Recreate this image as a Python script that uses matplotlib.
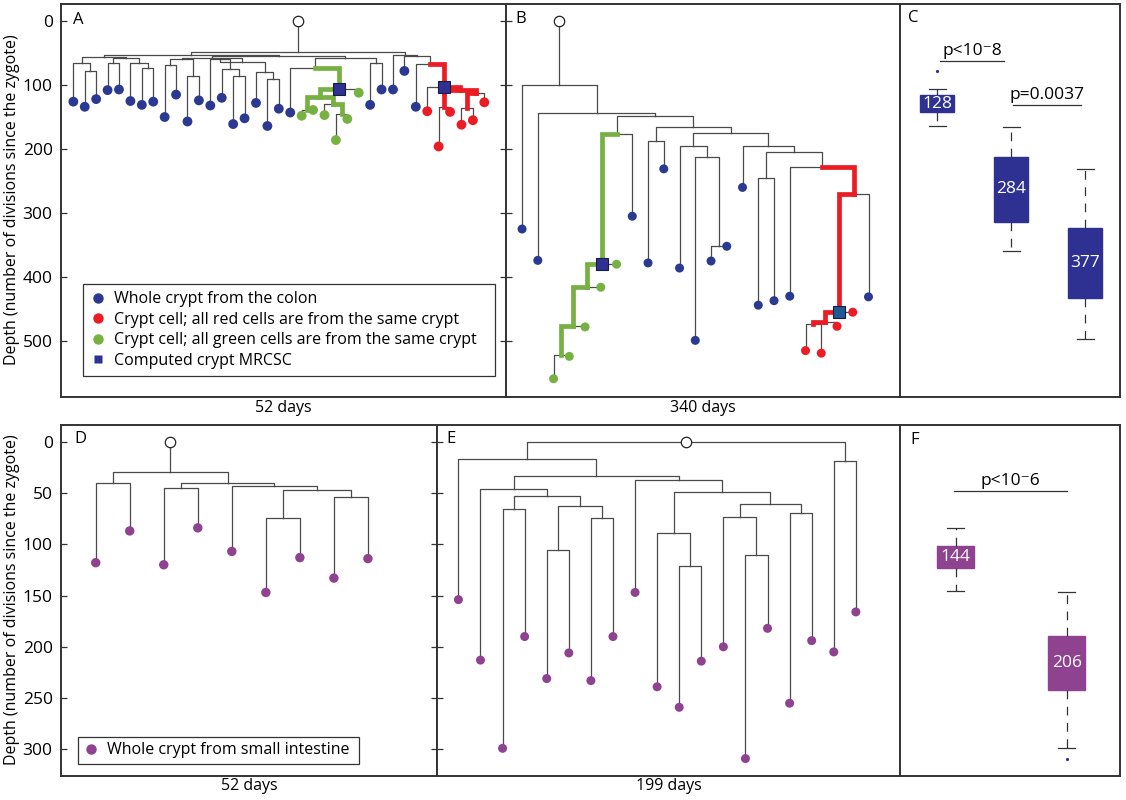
import matplotlib.pyplot as plt
from matplotlib.lines import Line2D

plt.rcParams['font.family'] = ['Open Sans', 'DejaVu Sans']
plt.rcParams['font.size'] = 11

BLUE = '#2b3990'
RED = '#ec1c24'
GREEN = '#77b143'
PURPLE = '#8e4290'
NAVY = '#2e3192'
TEAL = '#1f5a96'
LINE = '#4a4a4a'
FRAME = '#333333'

# ---- panel A: colon, 52 days (leaves left to right, depth in divisions)
a_depth = [126, 134, 122, 108, 107, 125, 131, 126, 150, 115, 157, 124, 132, 120, 161, 152, 128, 164, 137, 143,
           148, 139, 147, 186, 153, 112,
           131, 107, 107, 78, 134,
           141, 196, 142, 162, 155, 127]
a_type = 'bbbbbbbbbbbbbbbbbbbb' 'gggggg' 'bbbbb' 'rrrrrr'
# internal nodes: (name, left child, right child, depth)
a_nodes = [('a01', 1, 2, 78), ('a0', 0, 'a01', 66), ('a34', 3, 4, 66), ('a67', 6, 7, 74),
           ('a567', 5, 'a67', 65), ('a37', 'a34', 'a567', 58), ('LA', 'a0', 'a37', 56),
           ('a89', 8, 9, 69), ('a1011', 10, 11, 86), ('c1', 'a89', 'a1011', 60),
           ('a1415', 14, 15, 86), ('a13', 13, 'a1415', 75), ('a12', 12, 'a13', 60),
           ('a1718', 17, 18, 90), ('a16', 16, 'a1718', 79), ('c2', 'a12', 'a16', 64),
           ('LB1', 'c1', 'c2', 57),
           ('C1', 23, 24, 145), ('B2', 22, 'C1', 129), ('B1', 20, 21, 139), ('A1', 'B1', 'B2', 118),
           ('S', 'A1', 25, 107), ('Q', 19, 'S', 74), ('T1', 26, 27, 66), ('LB2', 'Q', 'T1', 57),
           ('LB', 'LB1', 'LB2', 55), ('LL', 'LA', 'LB', 52.5),
           ('R2', 32, 33, 134), ('R4', 34, 35, 136), ('R3', 'R4', 36, 113), ('R1', 'R2', 'R3', 108),
           ('RS', 31, 'R1', 103), ('R0', 30, 'RS', 67), ('a29', 29, 'R0', 55), ('RR', 28, 'a29', 53),
           ('root', 'LL', 'RR', 48)]
a_green = ['S', 'A1', 'B1', 'B2', 'C1']
a_red = ['RS', 'R1', 'R2', 'R3', 'R4']
a_mrcsc = {'S': NAVY, 'RS': NAVY}

# ---- panel B: colon, 340 days
b_depth = [325, 374, 559, 524, 478, 416, 380, 305, 378, 231, 386, 499, 375, 352, 260, 444, 437, 430,
           515, 519, 477, 455, 431]
b_type = 'bb' 'ggggg' 'bbbbbbbbbbb' 'rrrr' 'b'
b_nodes = [('g4', 2, 3, 522), ('g3', 'g4', 4, 476), ('g2', 'g3', 5, 415), ('gS', 'g2', 6, 379),
           ('ba', 'gS', 7, 177), ('n89', 8, 9, 187), ('n1213', 12, 13, 351), ('n11', 11, 'n1213', 213),
           ('n10', 10, 'n11', 195), ('n1516', 15, 16, 245), ('r3', 18, 19, 474), ('r2', 'r3', 20, 470),
           ('rS', 'r2', 21, 455), ('r1', 'rS', 22, 270), ('n17', 17, 'r1', 228), ('nc', 'n1516', 'n17', 204),
           ('nd', 14, 'nc', 195), ('ne', 'n10', 'nd', 175), ('nf', 'n89', 'ne', 166), ('ng', 'ba', 'nf', 149),
           ('nh', 1, 'ng', 143), ('root', 0, 'nh', 100)]
b_green = ['gS', 'g2', 'g3', 'g4']
b_red = ['r1', 'rS', 'r2', 'r3']
b_mrcsc = {'gS': NAVY, 'rS': TEAL}

# ---- panel C: colon MRCSC depths
c_labels = ['128', '284', '377']
c_q1 = [116, 212, 323]
c_q3 = [142, 314, 433]
c_lo = [106, 165, 231]
c_hi = [164, 359, 497]
c_fliers = [[78], [], []]

# ---- panel D: small intestine, 52 days
d_depth = [118, 87, 120, 84, 107, 147, 113, 133, 114]
d_nodes = [('d01', 0, 1, 40), ('d23', 2, 3, 45), ('d56', 5, 6, 74), ('d78', 7, 8, 54),
           ('d58', 'd56', 'd78', 47), ('d48', 4, 'd58', 43), ('d28', 'd23', 'd48', 40),
           ('root', 'd01', 'd28', 30)]

# ---- panel E: small intestine, 199 days
e_depth = [154, 213, 299, 190, 231, 206, 233, 190, 147, 239, 259, 214, 200, 309, 182, 255, 194, 205, 166]
e_nodes = [('e23', 2, 3, 66), ('e45', 4, 5, 106), ('e67', 6, 7, 74), ('e47', 'e45', 'e67', 63),
           ('e27', 'e23', 'e47', 53), ('e17', 1, 'e27', 46.5), ('e1011', 10, 11, 121.5),
           ('e911', 9, 'e1011', 89), ('e1314', 13, 14, 110), ('e1214', 12, 'e1314', 73),
           ('e1516', 15, 16, 70), ('e1216', 'e1214', 'e1516', 61), ('e916', 'e911', 'e1216', 49),
           ('e816', 8, 'e916', 37), ('e116', 'e17', 'e816', 33), ('e016', 0, 'e116', 17),
           ('e1718', 17, 18, 18.5), ('root', 'e016', 'e1718', 0)]

# ---- panel F: small intestine crypt depths
f_labels = ['144', '206']
f_q1 = [102, 189]
f_q3 = [123, 242]
f_lo = [84, 147]
f_hi = [146, 299]
f_fliers = [[], [309]]

TYPE_COLOR = {'b': BLUE, 'r': RED, 'g': GREEN, 'p': PURPLE}

W, H = 1126, 800
fig = plt.figure(figsize=(W / 100, H / 100), dpi=100)


def panel(x0, y0, x1, y1, ylim, xlim):
    ax = fig.add_axes([x0 / W, 1 - y1 / H, (x1 - x0) / W, (y1 - y0) / H])
    ax.set_xlim(*xlim)
    ax.set_ylim(*ylim)
    ax.set_xticks([])
    ax.set_yticks([])
    for s in ax.spines.values():
        s.set_color(FRAME)
        s.set_linewidth(1.4)
    ax.tick_params(axis='y', direction='in', length=4, width=0.9, color=FRAME, labelsize=12.5, pad=6)
    return ax


def draw_tree(ax, depth, types, nodes, green=(), red=(), squares=None, dot=46, zygote=0):
    pos = {i: (float(i), d) for i, d in enumerate(depth)}
    kids = {}
    for name, l, r, d in nodes:
        pos[name] = ((pos[l][0] + pos[r][0]) / 2, d)
        kids[name] = (l, r)
    for name, (l, r) in kids.items():
        px, pd = pos[name]
        for c in (l, r):
            cx, cd = pos[c]
            if c in green or c in red:
                col = GREEN if c in green else RED
                ax.plot([px, cx, cx], [pd, pd, cd], color=col, lw=3.4, zorder=3,
                        solid_capstyle='projecting', solid_joinstyle='miter')
            else:
                ax.plot([px, cx, cx], [pd, pd, cd], color=LINE, lw=0.9, zorder=2)
    rx, rd = pos[nodes[-1][0]]
    if rd > zygote:
        ax.plot([rx, rx], [zygote, rd], color=LINE, lw=0.9, zorder=2)
    ax.plot([rx], [zygote], 'o', ms=7.5, mfc='white', mec='#222222', mew=0.9, zorder=6)
    xs = list(range(len(depth)))
    ax.scatter(xs, depth, s=dot, c=[TYPE_COLOR[t] for t in types], edgecolors='none', zorder=5)
    if squares:
        for n, col in squares.items():
            ax.plot([pos[n][0]], [pos[n][1]], 's', ms=8, mfc=col, mec='#1a1a3a', mew=0.8, zorder=6)


def draw_boxes(ax, labels, q1, q3, lo, hi, fliers, color, width, capw):
    stats = []
    for i in range(len(labels)):
        stats.append(dict(med=(q1[i] + q3[i]) / 2, q1=q1[i], q3=q3[i], whislo=lo[i], whishi=hi[i],
                          fliers=fliers[i]))
    ax.bxp(stats, positions=range(1, len(labels) + 1), widths=width, capwidths=capw,
           patch_artist=True, showfliers=True,
           boxprops=dict(facecolor=color, edgecolor=color, lw=1),
           whiskerprops=dict(color=FRAME, lw=0.9, linestyle=(0, (7, 6))),
           capprops=dict(color=FRAME, lw=0.9),
           medianprops=dict(lw=0),
           flierprops=dict(marker='o', markersize=2.3, markerfacecolor=NAVY, markeredgecolor='none'))
    for i, lab in enumerate(labels):
        ax.text(i + 1, (q1[i] + q3[i]) / 2, lab, color='white', ha='center', va='center', fontsize=12.5)


def pbar(ax, x0, x1, y, ty, txt):
    ax.plot([x0, x1], [y, y], color=FRAME, lw=0.9)
    ax.text((x0 + x1) / 2, ty, txt, ha='center', va='center', fontsize=12.5)


top_ylim = (587.5, -26.6)
bot_ylim = (326, -16.3)

# top row
axA = panel(61, 4, 506, 397, top_ylim, (-1.08, 37.9))
axA.set_yticks([0, 100, 200, 300, 400, 500])
axA.tick_params(axis='y', right=True)
draw_tree(axA, a_depth, a_type, a_nodes, a_green, a_red, a_mrcsc, dot=50)
handles = [Line2D([], [], ls='none', marker='o', ms=7.5, mfc=BLUE, mec='none'),
           Line2D([], [], ls='none', marker='o', ms=7.5, mfc=RED, mec='none'),
           Line2D([], [], ls='none', marker='o', ms=7.5, mfc=GREEN, mec='none'),
           Line2D([], [], ls='none', marker='s', ms=6, mfc=NAVY, mec='none')]
leg = axA.legend(handles, ['Whole crypt from the colon',
                           'Crypt cell; all red cells are from the same crypt',
                           'Crypt cell; all green cells are from the same crypt',
                           'Computed crypt MRCSC'],
                 loc='upper left', bbox_to_anchor=(0.049, 0.2875, 0.926, 0.0), mode='expand',
                 borderaxespad=0, fancybox=False, framealpha=1, edgecolor=FRAME, fontsize=11.5,
                 labelspacing=0.28, handletextpad=0.5, borderpad=0.45, handlelength=1.0)
leg.get_frame().set_linewidth(0.9)

axB = panel(506, 4, 900, 397, top_ylim, (-1.02, 24.0))
axB.set_yticks([0, 100, 200, 300, 400, 500])
axB.tick_params(axis='y', labelleft=False)
draw_tree(axB, b_depth, b_type, b_nodes, b_green, b_red, b_mrcsc, dot=42)

axC = panel(900, 4, 1120, 397, top_ylim, (0.5, 3.47))
draw_boxes(axC, c_labels, c_q1, c_q3, c_lo, c_hi, c_fliers, NAVY, 0.46, 0.23)
axC.set_xticks([])
pbar(axC, 1.04, 1.905, 62.5, 47, 'p<10⁻8')
pbar(axC, 2.03, 2.95, 131, 115, 'p=0.0037')

# bottom row
axD = panel(61, 425, 437, 776, bot_ylim, (-1.02, 10.03))
axD.set_yticks([0, 50, 100, 150, 200, 250, 300])
axD.tick_params(axis='y', right=True)
draw_tree(axD, d_depth, 'p' * len(d_depth), d_nodes, dot=46)
hd = [Line2D([], [], ls='none', marker='o', ms=7.5, mfc=PURPLE, mec='none')]
legD = axD.legend(hd, ['Whole crypt from small intestine'], loc='lower left',
                  bbox_to_anchor=(0.045, 0.034, 0.747, 0.0), mode='expand', borderaxespad=0,
                  fancybox=False, framealpha=1, edgecolor=FRAME, fontsize=11.5,
                  handletextpad=0.5, borderpad=0.35, handlelength=1.0)
legD.get_frame().set_linewidth(0.9)

axE = panel(437, 425, 900, 776, bot_ylim, (-0.97, 20.0))
axE.set_yticks([0, 50, 100, 150, 200, 250, 300])
axE.tick_params(axis='y', labelleft=False)
draw_tree(axE, e_depth, 'p' * len(e_depth), e_nodes, dot=42)

axF = panel(900, 425, 1120, 776, bot_ylim, (0.5, 2.48))
draw_boxes(axF, f_labels, f_q1, f_q3, f_lo, f_hi, f_fliers, PURPLE, 0.33, 0.15)
axF.set_xticks([])
pbar(axF, 0.99, 2.0, 48, 38, 'p<10⁻6')

# panel letters, axis titles
for lab, x, y in [('A', 73, 20), ('B', 515, 19), ('C', 908, 18),
                  ('D', 74, 439), ('E', 446, 439), ('F', 910, 440)]:
    fig.text(x / W, 1 - y / H, lab, ha='left', va='center', fontsize=12)
for txt, x, y in [('52 days', 283.5, 408), ('340 days', 703, 408),
                  ('52 days', 249, 786), ('199 days', 668.5, 786)]:
    fig.text(x / W, 1 - y / H, txt, ha='center', va='center', fontsize=11.5)
ylab = 'Depth (number of divisions since the zygote)'
fig.text(12 / W, 1 - 200 / H, ylab, rotation=90, ha='center', va='center', fontsize=11.5)
fig.text(12 / W, 1 - 600 / H, ylab, rotation=90, ha='center', va='center', fontsize=11.5)

fig.savefig('out.png', dpi=100)
